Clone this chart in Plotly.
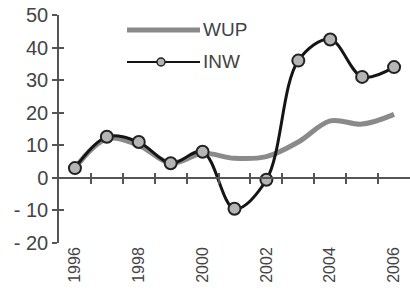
import plotly.graph_objects as go

years = [1996, 1997, 1998, 1999, 2000, 2001, 2002, 2003, 2004, 2005, 2006]
wup = [3, 12, 10, 4.5, 7.5, 6, 6.5, 11, 17.5, 16.5, 19.5]
inw = [3, 12.6, 11, 4.5, 8, -9.5, -0.6, 36, 42.5, 31, 34]
x_tick_labels = ["1996", "1998", "2000", "2002", "2004", "2006"]
x_tick_vals = [1996, 1998, 2000, 2002, 2004, 2006]
y_ticks = [-20, -10, 0, 10, 20, 30, 40, 50]
y_tick_text = ["- 20", "- 10", "0", "10", "20", "30", "40", "50"]
boundaries = [y + 0.5 for y in years[:-1]]

FONT = "Liberation Sans, Arial, sans-serif"
GREY_TXT = "#444444"
AX = "#555555"

fig = go.Figure()
fig.add_trace(go.Scatter(x=years, y=wup, mode="lines", name="WUP",
                         line=dict(color="#8a8a8a", width=5, shape="spline", smoothing=1.0),
                         showlegend=False))
fig.add_trace(go.Scatter(x=years, y=inw, mode="lines+markers", name="INW",
                         line=dict(color="#151515", width=3, shape="spline", smoothing=1.0),
                         marker=dict(size=12, color="#b5b5b5", line=dict(color="#222222", width=2)),
                         showlegend=False))
# invisible helper traces so the extra axes render
fig.add_trace(go.Scatter(x=[years[0]], y=[0], xaxis="x2", yaxis="y", mode="markers",
                         marker=dict(opacity=0), showlegend=False, hoverinfo="skip"))
fig.add_trace(go.Scatter(x=[years[0]], y=[0], xaxis="x3", yaxis="y2", mode="markers",
                         marker=dict(opacity=0), showlegend=False, hoverinfo="skip"))

zero_pos = (0 - (-20)) / 70.0
xr = [1995.5, 2006.5]
yr = [-20, 50]

W, H = 410, 293
L, R, T, B = 59, 0, 15, 50

fig.update_layout(
    width=W, height=H,
    margin=dict(l=L, r=R, t=T, b=B),
    paper_bgcolor="white", plot_bgcolor="white",
    font=dict(family=FONT, color=GREY_TXT),
    xaxis=dict(range=xr, tickmode="array", tickvals=x_tick_vals, ticktext=x_tick_labels,
               tickangle=-90, tickfont=dict(size=16, family=FONT, color=GREY_TXT),
               showline=False, showgrid=False, zeroline=False, ticks="", automargin=False),
    xaxis2=dict(range=xr, overlaying="x", anchor="free", position=zero_pos,
                tickmode="array", tickvals=boundaries, showticklabels=False,
                ticks="outside", ticklen=5, tickwidth=1.5, tickcolor=AX, automargin=False,
                showline=True, linecolor=AX, linewidth=1.5, showgrid=False, zeroline=False),
    xaxis3=dict(range=xr, overlaying="x", anchor="free", position=zero_pos,
                tickmode="array", tickvals=boundaries, showticklabels=False,
                ticks="inside", ticklen=5, tickwidth=1.5, tickcolor=AX, automargin=False,
                showline=False, showgrid=False, zeroline=False),
    yaxis=dict(range=yr, tickmode="array", tickvals=y_ticks, ticktext=y_tick_text,
               tickfont=dict(size=20, family=FONT, color=GREY_TXT), automargin=False,
               ticks="outside", ticklen=5, tickwidth=1.5, tickcolor=AX,
               showline=True, linecolor=AX, linewidth=1.5, showgrid=False, zeroline=False),
    yaxis2=dict(range=yr, overlaying="y", anchor="x", side="left", automargin=False,
                tickmode="array", tickvals=y_ticks, showticklabels=False,
                ticks="inside", ticklen=5, tickwidth=1.5, tickcolor=AX,
                showline=False, showgrid=False, zeroline=False),
    showlegend=False,
)

# manual legend (positions given in window pixels)
def px2paper_x(px):
    return (px - L) / (W - L - R)

def px2paper_y(py):
    return (H - B - py) / (H - T - B)

fig.add_shape(type="line", xref="paper", yref="paper",
              x0=px2paper_x(127), x1=px2paper_x(200), y0=px2paper_y(30), y1=px2paper_y(30),
              line=dict(color="#8a8a8a", width=5))
fig.add_shape(type="line", xref="paper", yref="paper",
              x0=px2paper_x(127), x1=px2paper_x(200), y0=px2paper_y(62), y1=px2paper_y(62),
              line=dict(color="#151515", width=2))
fig.add_shape(type="circle", xref="paper", yref="paper",
              x0=px2paper_x(157), x1=px2paper_x(165), y0=px2paper_y(58), y1=px2paper_y(66),
              line=dict(color="#222222", width=1.5), fillcolor="#b5b5b5")
for label, py in [("WUP", 30), ("INW", 62)]:
    fig.add_annotation(text=label, xref="paper", yref="paper",
                       x=px2paper_x(201), y=px2paper_y(py), xanchor="left", yanchor="middle",
                       showarrow=False, font=dict(size=19, family=FONT, color=GREY_TXT))

fig.write_html("out.html", config={"displayModeBar": False},
               post_script="document.body.style.margin='0';document.body.style.overflow='hidden';")
